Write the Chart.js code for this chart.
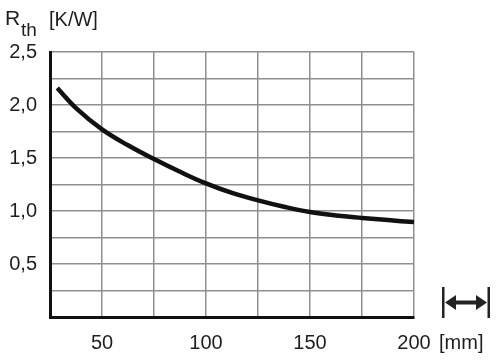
<!DOCTYPE html>
<html>
<head>
    <title>Rth curve</title>
    <script src="https://cdn.jsdelivr.net/npm/chart.js"></script>
    <style>
        html, body { margin: 0; padding: 0; background: #fff; }
        .wrap { width: 500px; height: 360px; position: relative; }
    </style>
</head>
<body>
    <div class="wrap">
        <canvas id="rthChart" width="500" height="360"></canvas>
    </div>

    <script>
        // Data
        const lengthMm = [28.5, 37.5, 50, 62.5, 75, 87.5, 100, 112.5, 125, 137.5, 150, 162.5, 175, 187.5, 200];
        const rthKW = [2.16, 1.97, 1.77, 1.62, 1.49, 1.37, 1.26, 1.17, 1.10, 1.04, 0.99, 0.958, 0.935, 0.914, 0.895];
        const xTickLabels = [50, 100, 150, 200];
        const yTickLabels = [0.5, 1.0, 1.5, 2.0, 2.5];
        const yTitle = ['R', 'th', '[K/W]'];
        const xUnit = '[mm]';

        const FONT = '"Liberation Sans", Arial, sans-serif';
        const TEXT = '#1e1e1e';

        // axis titles and the length symbol drawn on top of the chart
        const decorations = {
            id: 'decorations',
            afterDraw(chart) {
                const ctx = chart.ctx;
                const x = chart.scales.x;
                ctx.save();
                ctx.fillStyle = TEXT;
                ctx.textBaseline = 'alphabetic';
                ctx.textAlign = 'left';
                ctx.font = '21px ' + FONT;
                ctx.fillText(yTitle[0], 5, 25);
                ctx.font = '19px ' + FONT;
                ctx.fillText(yTitle[1], 21, 36);
                ctx.font = '20px ' + FONT;
                ctx.fillText(yTitle[2], 49, 26);

                // unit after the last x label
                ctx.font = '20px ' + FONT;
                const px = x.getPixelForValue(200);
                ctx.fillText(xUnit, px + 25, 349);

                // |<->| symbol
                ctx.fillStyle = '#222';
                ctx.fillRect(442, 287, 2.5, 31);
                ctx.fillRect(487.5, 287, 2.5, 31);
                const cy = 302.5;
                ctx.fillRect(452, cy - 2, 26, 4);
                ctx.beginPath();
                ctx.moveTo(445, cy);
                ctx.lineTo(456, cy - 7.5);
                ctx.lineTo(456, cy + 7.5);
                ctx.closePath();
                ctx.fill();
                ctx.beginPath();
                ctx.moveTo(487, cy);
                ctx.lineTo(476, cy - 7.5);
                ctx.lineTo(476, cy + 7.5);
                ctx.closePath();
                ctx.fill();
                ctx.restore();
            }
        };

        const rthChart = new Chart(document.getElementById('rthChart').getContext('2d'), {
            type: 'line',
            data: {
                datasets: [{
                    label: 'Rth',
                    data: lengthMm.map((v, i) => ({ x: v, y: rthKW[i] })),
                    borderColor: '#111',
                    borderWidth: 4.5,
                    pointRadius: 0,
                    tension: 0.4,
                    fill: false
                }]
            },
            options: {
                responsive: false,
                animation: false,
                layout: {
                    padding: { top: 52, right: 86, bottom: 0, left: 0 }
                },
                plugins: {
                    legend: { display: false },
                    tooltip: { enabled: false }
                },
                scales: {
                    x: {
                        type: 'linear',
                        min: 25,
                        max: 200,
                        afterFit: axis => { axis.height = 43; },
                        border: { display: true, color: '#111', width: 3 },
                        grid: { color: '#8f8f8f', lineWidth: 1.5, drawTicks: false },
                        ticks: {
                            stepSize: 25,
                            padding: 14,
                            color: TEXT,
                            font: { family: FONT, size: 20 },
                            maxRotation: 0,
                            autoSkip: false,
                            callback: v => xTickLabels.includes(v) ? String(v) : ''
                        }
                    },
                    y: {
                        min: 0,
                        max: 2.5,
                        afterFit: axis => { axis.width = 50; },
                        border: { display: true, color: '#111', width: 3 },
                        grid: { color: '#8f8f8f', lineWidth: 1.5, drawTicks: false },
                        ticks: {
                            stepSize: 0.25,
                            padding: 13,
                            color: TEXT,
                            font: { family: FONT, size: 20 },
                            autoSkip: false,
                            callback: v => yTickLabels.some(t => Math.abs(t - v) < 1e-6)
                                ? v.toFixed(1).replace('.', ',') : ''
                        }
                    }
                }
            },
            plugins: [decorations]
        });
    </script>
</body>
</html>
